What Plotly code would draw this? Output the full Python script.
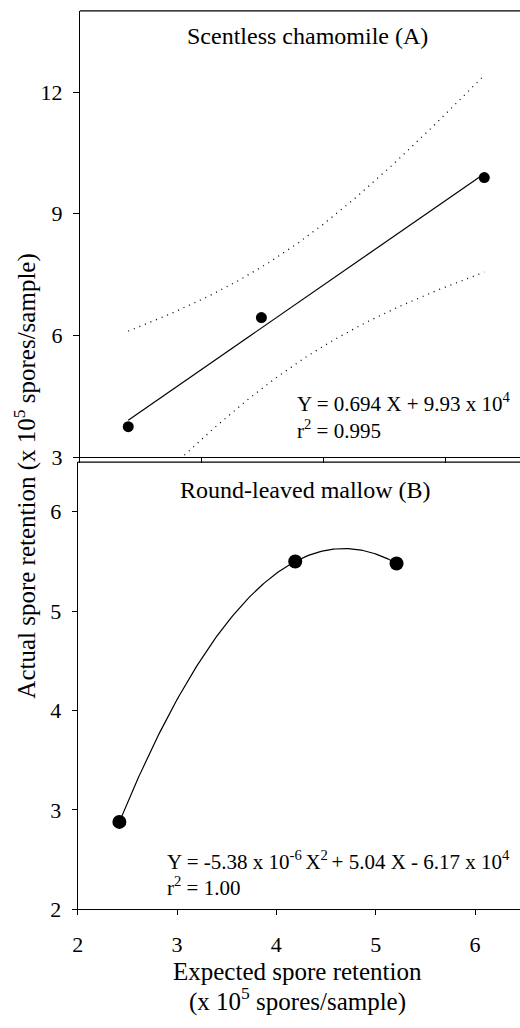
import numpy as np
import plotly.graph_objects as go

# ---------------- data (x 10^5 spores/sample) ----------------
chamomile_expected = [4.19, 7.47, 12.96]
chamomile_actual = [3.75, 6.44, 9.89]
mallow_expected = [2.42, 4.19, 5.21]
mallow_actual = [2.88, 5.50, 5.48]

top_y_ticks = [3, 6, 9, 12]
top_x_ticks = [3, 6, 9, 12]
bottom_ticks = [2, 3, 4, 5, 6]

title_a = "Scentless chamomile (A)"
title_b = "Round-leaved mallow (B)"
eq_a = ["Y = 0.694 X + 9.93 x 10<sup>4</sup>", "r<sup>2</sup> = 0.995"]
eq_b = ["Y = -5.38 x 10<sup>-6 </sup>X<sup>2 </sup>+ 5.04 X - 6.17 x 10<sup>4</sup>", "r<sup>2</sup> = 1.00"]
band_t = 8.0  # critical multiplier for confidence band

W, H = 520, 1028
FONT = "Liberation Serif, Times New Roman, serif"

# ---------------- fits ----------------
xa = np.array(chamomile_expected)
ya = np.array(chamomile_actual)
slope, intercept = np.polyfit(xa, ya, 1)
xs_a = np.linspace(xa.min(), xa.max(), 120)
fit_a = slope * xs_a + intercept
n = len(xa)
resid = ya - (slope * xa + intercept)
s = np.sqrt(np.sum(resid ** 2) / (n - 2))
sxx = np.sum((xa - xa.mean()) ** 2)
hw = band_t * s * np.sqrt(1 / n + (xs_a - xa.mean()) ** 2 / sxx)

xb = np.array(mallow_expected)
yb = np.array(mallow_actual)
coef_b = np.polyfit(xb, yb, 2)
xs_b = np.linspace(xb.min(), xb.max(), 150)
fit_b = np.polyval(coef_b, xs_b)

fig = go.Figure()
# top panel
fig.add_trace(go.Scatter(x=xs_a, y=fit_a + hw, mode="lines", line=dict(color="black", width=1.3, dash="1px,5px"), xaxis="x", yaxis="y"))
fig.add_trace(go.Scatter(x=xs_a, y=fit_a - hw, mode="lines", line=dict(color="black", width=1.3, dash="1px,5px"), xaxis="x", yaxis="y"))
fig.add_trace(go.Scatter(x=xs_a, y=fit_a, mode="lines", line=dict(color="black", width=1.2), xaxis="x", yaxis="y"))
fig.add_trace(go.Scatter(x=chamomile_expected, y=chamomile_actual, mode="markers", marker=dict(color="black", size=11), xaxis="x", yaxis="y", cliponaxis=False))
# bottom panel
fig.add_trace(go.Scatter(x=xs_b, y=fit_b, mode="lines", line=dict(color="black", width=1.2), xaxis="x2", yaxis="y2"))
fig.add_trace(go.Scatter(x=mallow_expected, y=mallow_actual, mode="markers", marker=dict(color="black", size=14), xaxis="x2", yaxis="y2", cliponaxis=False))

axis_common = dict(showgrid=False, zeroline=False, showline=True, linecolor="black", linewidth=1.2,
                   ticks="outside", tickcolor="black", tickwidth=1.2, ticklen=5,
                   tickfont=dict(family=FONT, size=22, color="black"))

top_dom_y = [1 - 463 / H, 1 - 11 / H]
bot_dom_y = [1 - 921 / H, 1 - 468 / H]
top_dom_x = [74.8 / W, 1]
bot_dom_x = [72.5 / W, 1]

fig.update_layout(
    width=W, height=H, showlegend=False,
    margin=dict(l=0, r=0, t=0, b=0),
    paper_bgcolor="white", plot_bgcolor="white",
    font=dict(family=FONT, color="black"),
    xaxis=dict(axis_common, domain=top_dom_x, range=[3, 3 + (W - 74.8) / 41.07], tickvals=top_x_ticks,
               showticklabels=False, anchor="y"),
    yaxis=dict(axis_common, domain=top_dom_y, range=[3, 14], tickvals=top_y_ticks, anchor="x", ticklen=6,
               ticklabelstandoff=6),
    xaxis2=dict(axis_common, domain=bot_dom_x, range=[2, 2 + (W - 72.5) / 100.5], tickvals=bottom_ticks, anchor="y2",
                ticklabelstandoff=10),
    yaxis2=dict(axis_common, domain=bot_dom_y, range=[2, 6.5], tickvals=bottom_ticks, anchor="x2",
                ticklabelstandoff=6),
)

# top borders
fig.add_shape(type="line", xref="x domain", yref="y domain", x0=0, x1=1, y0=1, y1=1, line=dict(color="black", width=1.2))
fig.add_shape(type="line", xref="x2 domain", yref="y2 domain", x0=0, x1=1, y0=1, y1=1, line=dict(color="black", width=1.2))

def ann(text, x, y, size, xanchor="center", angle=0):
    fig.add_annotation(text=text, x=x / W, y=1 - y / H, xref="paper", yref="paper", showarrow=False,
                       xanchor=xanchor, yanchor="middle", textangle=angle,
                       font=dict(family=FONT, size=size, color="black"))

ann(title_a, 305, 36, 24)
ann(title_b, 303, 496, 24)
ann(eq_a[0], 292, 408, 21, "left")
ann(eq_a[1], 292, 435, 21, "left")
ann(eq_b[0], 161, 872, 21, "left")
ann(eq_b[1], 161, 898, 21, "left")
ann("Expected spore retention", 295, 984, 25)
ann("(x 10<sup>5</sup> spores/sample)", 295, 1012, 25)
ann("Actual spore retention (x 10<sup>5</sup> spores/sample)", 20, 482, 25, angle=-90)

fig.write_html("out.html", config={"displayModeBar": False},
               post_script="document.body.style.margin='0px';document.body.style.overflow='hidden';")
